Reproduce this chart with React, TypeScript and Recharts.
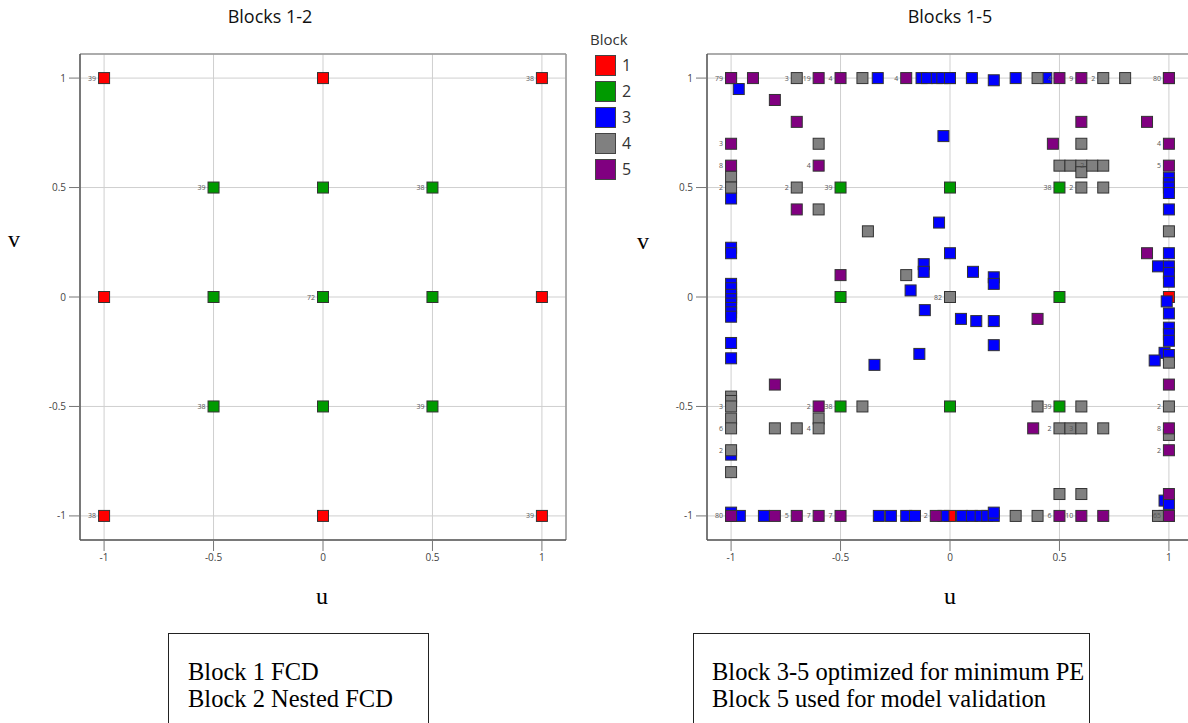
import { ScatterChart, Scatter, XAxis, YAxis, CartesianGrid, ReferenceLine } from 'recharts'

const SERIF = '"Liberation Serif", "Times New Roman", serif'
const SANS = '"Open Sans", "Noto Sans", sans-serif'

const BLOCKS = ['1', '2', '3', '4', '5']
const COLORS = ['#ff0000', '#009a00', '#0000ff', '#808080', '#800080']
const TICKS = [-1, -0.5, 0, 0.5, 1]
const DOMAIN: [number, number] = [-1.11, 1.11]

type Pt = { u: number; v: number; n?: string }

// Blocks 1-2 panel
const FCD_LEFT: Pt[] = [
  { u: -1, v: 1, n: '39' }, { u: 0, v: 1 }, { u: 1, v: 1, n: '38' },
  { u: -1, v: 0 }, { u: 1, v: 0 },
  { u: -1, v: -1, n: '38' }, { u: 0, v: -1 }, { u: 1, v: -1, n: '39' },
]
const NESTED_LEFT: Pt[] = [
  { u: -0.5, v: 0.5, n: '39' }, { u: 0, v: 0.5 }, { u: 0.5, v: 0.5, n: '38' },
  { u: -0.5, v: 0 }, { u: 0, v: 0, n: '72' }, { u: 0.5, v: 0 },
  { u: -0.5, v: -0.5, n: '38' }, { u: 0, v: -0.5 }, { u: 0.5, v: -0.5, n: '39' },
]

// Blocks 1-5 panel
const FCD_RIGHT: Pt[] = [
  { u: -1, v: 1 }, { u: 0, v: 1 }, { u: 1, v: 1 },
  { u: -1, v: 0 }, { u: 1, v: 0 },
  { u: -1, v: -1 }, { u: 0, v: -1 }, { u: 1, v: -1 },
]
const NESTED_RIGHT: Pt[] = [
  { u: -0.5, v: 0.5, n: '39' }, { u: 0, v: 0.5 }, { u: 0.5, v: 0.5, n: '38' },
  { u: -0.5, v: 0 }, { u: 0, v: 0 }, { u: 0.5, v: 0 },
  { u: -0.5, v: -0.5, n: '38' }, { u: 0, v: -0.5 }, { u: 0.5, v: -0.5, n: '39' },
]
const OPT_BLOCK3: Pt[] = [
  { u: -0.33, v: 1 }, { u: -0.13, v: 1 }, { u: -0.105, v: 1 }, { u: -0.06, v: 1 },
  { u: -0.035, v: 1 }, { u: 0, v: 1 }, { u: 0.1, v: 1 }, { u: 0.2, v: 0.99 },
  { u: 0.3, v: 1 }, { u: 0.44, v: 1 },
  { u: -0.965, v: 0.95 }, { u: -0.03, v: 0.735 }, { u: -1, v: 0.45 },
  { u: 1, v: 0.545 }, { u: 1, v: 0.52 }, { u: 1, v: 0.5 }, { u: 1, v: 0.475 },
  { u: 1, v: 0.4 }, { u: -0.05, v: 0.34 },
  { u: -1, v: 0.225 }, { u: -1, v: 0.2 }, { u: 0, v: 0.2 }, { u: 1, v: 0.2 },
  { u: -0.12, v: 0.15 }, { u: -0.12, v: 0.115 }, { u: 0.105, v: 0.115 },
  { u: 0.2, v: 0.09 }, { u: 0.2, v: 0.06 }, { u: 0.95, v: 0.14 },
  { u: 1, v: 0.14 }, { u: 1, v: 0.11 }, { u: 1, v: 0.07 },
  { u: -1, v: 0.06 }, { u: -1, v: 0.04 }, { u: -1, v: 0.01 }, { u: -1, v: -0.01 },
  { u: -1, v: -0.03 }, { u: -1, v: -0.05 }, { u: -1, v: -0.07 }, { u: -1, v: -0.09 },
  { u: -0.18, v: 0.03 }, { u: 0.99, v: -0.02 }, { u: -0.115, v: -0.06 },
  { u: 0.05, v: -0.1 }, { u: 0.12, v: -0.11 }, { u: 0.2, v: -0.11 },
  { u: 1, v: -0.075 }, { u: 1, v: -0.14 }, { u: 1, v: -0.17 }, { u: 1, v: -0.2 },
  { u: 0.98, v: -0.255 }, { u: 1, v: -0.265 }, { u: 0.935, v: -0.29 },
  { u: 0.2, v: -0.22 }, { u: -0.14, v: -0.26 }, { u: -0.345, v: -0.31 },
  { u: -1, v: -0.21 }, { u: -1, v: -0.28 }, { u: -1, v: -0.72 },
  { u: 0.98, v: -0.93 }, { u: 1, v: -0.945 },
  { u: -1, v: -0.985 }, { u: -0.96, v: -1 }, { u: -0.85, v: -1 }, { u: -0.325, v: -1 },
  { u: -0.27, v: -1 }, { u: -0.2, v: -1 }, { u: -0.16, v: -1 }, { u: -0.03, v: -1 },
  { u: 0.055, v: -1 }, { u: 0.1, v: -1 }, { u: 0.14, v: -1 }, { u: 0.17, v: -1 },
  { u: 0.2, v: -1 }, { u: 0.2, v: -0.985 }, { u: 0.98, v: -1 },
]
const OPT_BLOCK4: Pt[] = [
  { u: -0.7, v: 1, n: '3' }, { u: -0.4, v: 1 }, { u: 0.4, v: 1 }, { u: 0.7, v: 1, n: '2' }, { u: 0.8, v: 1 },
  { u: -0.6, v: 0.7 }, { u: 0.6, v: 0.7 },
  { u: 0.5, v: 0.6 }, { u: 0.55, v: 0.6 }, { u: 0.6, v: 0.6 }, { u: 0.6, v: 0.57 },
  { u: 0.65, v: 0.6, n: '2' }, { u: 0.7, v: 0.6 },
  { u: -1, v: 0.55 }, { u: -1, v: 0.5, n: '2' }, { u: -0.7, v: 0.5, n: '2' },
  { u: 0.6, v: 0.5, n: '2' }, { u: 0.7, v: 0.5 },
  { u: -0.6, v: 0.4 }, { u: -0.375, v: 0.3 }, { u: 1, v: 0.3 }, { u: -0.2, v: 0.1 },
  { u: 0, v: 0, n: '82' }, { u: 1, v: -0.3 },
  { u: -1, v: -0.455 }, { u: -1, v: -0.475 }, { u: -1, v: -0.5, n: '3' },
  { u: -0.4, v: -0.5 }, { u: 0.4, v: -0.5 }, { u: 0.6, v: -0.5 }, { u: 1, v: -0.5, n: '2' },
  { u: -1, v: -0.555 }, { u: -1, v: -0.6, n: '6' },
  { u: -0.8, v: -0.6 }, { u: -0.7, v: -0.6 }, { u: -0.6, v: -0.555 }, { u: -0.6, v: -0.6, n: '4' },
  { u: 0.5, v: -0.6, n: '2' }, { u: 0.55, v: -0.6 }, { u: 0.6, v: -0.6, n: '3' }, { u: 0.7, v: -0.6 },
  { u: 1, v: -0.63 }, { u: -1, v: -0.7, n: '2' }, { u: -1, v: -0.8 },
  { u: 0.5, v: -0.9 }, { u: 0.6, v: -0.9 },
  { u: 0.3, v: -1 }, { u: 0.4, v: -1 }, { u: 0.95, v: -1 },
]
const VALID_BLOCK5: Pt[] = [
  { u: -1, v: 1, n: '79' }, { u: -0.9, v: 1 }, { u: -0.6, v: 1, n: '19' }, { u: -0.5, v: 1, n: '4' },
  { u: -0.2, v: 1, n: '4' }, { u: 0.5, v: 1, n: '4' }, { u: 0.6, v: 1, n: '9' }, { u: 1, v: 1, n: '80' },
  { u: -0.8, v: 0.9 }, { u: -0.7, v: 0.8 }, { u: 0.6, v: 0.8 }, { u: 0.9, v: 0.8 },
  { u: -1, v: 0.7, n: '3' }, { u: 0.47, v: 0.7 }, { u: 1, v: 0.7, n: '4' },
  { u: -1, v: 0.6, n: '8' }, { u: -0.6, v: 0.6, n: '4' }, { u: 1, v: 0.6, n: '5' },
  { u: -0.7, v: 0.4 }, { u: 0.9, v: 0.2 }, { u: -0.5, v: 0.1 }, { u: 0.4, v: -0.1 },
  { u: -0.8, v: -0.4 }, { u: 1, v: -0.4 }, { u: -0.6, v: -0.5, n: '2' }, { u: 0.38, v: -0.6 },
  { u: 1, v: -0.6, n: '8' }, { u: 1, v: -0.7, n: '2' }, { u: 1, v: -0.9 },
  { u: -1, v: -1, n: '80' }, { u: -0.8, v: -1 }, { u: -0.7, v: -1, n: '5' }, { u: -0.6, v: -1, n: '7' },
  { u: -0.5, v: -1, n: '7' }, { u: -0.065, v: -1, n: '2' }, { u: 0.5, v: -1, n: '6' },
  { u: 0.6, v: -1, n: '10' }, { u: 0.7, v: -1 }, { u: 1, v: -1, n: '65' },
]

const LEFT_SERIES = [FCD_LEFT, NESTED_LEFT]
const RIGHT_SERIES = [FCD_RIGHT, NESTED_RIGHT, OPT_BLOCK3, OPT_BLOCK4, VALID_BLOCK5]

function Square(props: any) {
  const { cx, cy, payload, color } = props
  if (cx == null || cy == null) return null
  return (
    <g>
      {payload?.n && (
        <text x={cx - 8} y={cy + 2.5} textAnchor="end" fontSize={7} fill="#555" fontFamily={SANS}>
          {payload.n}
        </text>
      )}
      <rect x={cx - 5.5} y={cy - 5.5} width={11} height={11} fill={color} stroke="#333" strokeWidth={1} />
    </g>
  )
}

const TICK_STYLE = { fill: '#444', fontSize: 10, fontFamily: SANS }

function Panel({ series, left }: { series: Pt[][]; left: number }) {
  return (
    <div style={{ position: 'absolute', left, top: 0, width: 600, height: 620 }}>
      <ScatterChart width={600} height={620} margin={{ top: 54, right: 34, bottom: 50, left: 40 }}>
        <CartesianGrid stroke="#cfcfcf" />
        <XAxis
          type="number" dataKey="u" domain={DOMAIN} ticks={TICKS} allowDataOverflow
          height={30} tickSize={11} tickMargin={3} tick={TICK_STYLE}
          axisLine={{ stroke: '#555', strokeWidth: 1.5 }} tickLine={{ stroke: '#777' }}
        />
        <YAxis
          type="number" dataKey="v" domain={DOMAIN} ticks={TICKS} allowDataOverflow
          width={40} tickSize={11} tickMargin={3} tick={TICK_STYLE}
          axisLine={{ stroke: '#555', strokeWidth: 1.5 }} tickLine={{ stroke: '#777' }}
        />
        <ReferenceLine x={1.11} stroke="#999" strokeWidth={1.5} />
        <ReferenceLine y={1.11} stroke="#999" strokeWidth={1.5} />
        {series.map((data, i) => (
          <Scatter
            key={BLOCKS[i]}
            name={BLOCKS[i]}
            data={data}
            fill={COLORS[i]}
            isAnimationActive={false}
            shape={(p: any) => <Square {...p} color={COLORS[i]} />}
          />
        ))}
      </ScatterChart>
    </div>
  )
}

const abs = (s: any) => ({ position: 'absolute' as const, ...s })

export default function App() {
  return (
    <div style={abs({ left: 0, top: 0, width: 1188, height: 723, overflow: 'hidden', background: '#fff' })}>
      <Panel series={LEFT_SERIES} left={0} />
      <Panel series={RIGHT_SERIES} left={627} />

      <div style={abs({ left: 170, top: 4, width: 200, textAlign: 'center', fontFamily: SANS, fontSize: 18, color: '#111' })}>Blocks 1-2</div>
      <div style={abs({ left: 850, top: 4, width: 200, textAlign: 'center', fontFamily: SANS, fontSize: 18, color: '#111' })}>Blocks 1-5</div>

      <div style={abs({ left: 8, top: 226, fontFamily: SERIF, fontSize: 24 })}>v</div>
      <div style={abs({ left: 637, top: 228, fontFamily: SERIF, fontSize: 24 })}>v</div>
      <div style={abs({ left: 316, top: 583, fontFamily: SERIF, fontSize: 24 })}>u</div>
      <div style={abs({ left: 944, top: 583, fontFamily: SERIF, fontSize: 24 })}>u</div>

      <div style={abs({ left: 590, top: 29, fontFamily: SANS, fontSize: 15, color: '#333' })}>
        <div style={{ marginBottom: 3 }}>Block</div>
        {BLOCKS.map((b, i) => (
          <div key={b} style={{ display: 'flex', alignItems: 'center', height: 26, marginLeft: 5 }}>
            <div style={{ width: 21, height: 21, background: COLORS[i], border: '1px solid #444', boxSizing: 'border-box' }} />
            <span style={{ marginLeft: 6, fontSize: 16 }}>{b}</span>
          </div>
        ))}
      </div>

      <div style={abs({ left: 168, top: 633, width: 261, height: 110, border: '1px solid #222', boxSizing: 'border-box', padding: '24px 0 0 19px', fontFamily: SERIF, fontSize: 24.5, lineHeight: '27px' })}>
        Block 1 FCD<br />Block 2 Nested FCD
      </div>
      <div style={abs({ left: 693, top: 633, width: 397, height: 110, border: '1px solid #222', boxSizing: 'border-box', padding: '24px 0 0 18px', fontFamily: SERIF, fontSize: 24.5, lineHeight: '27px' })}>
        Block 3-5 optimized for minimum PE<br />Block 5 used for model validation
      </div>
    </div>
  )
}
